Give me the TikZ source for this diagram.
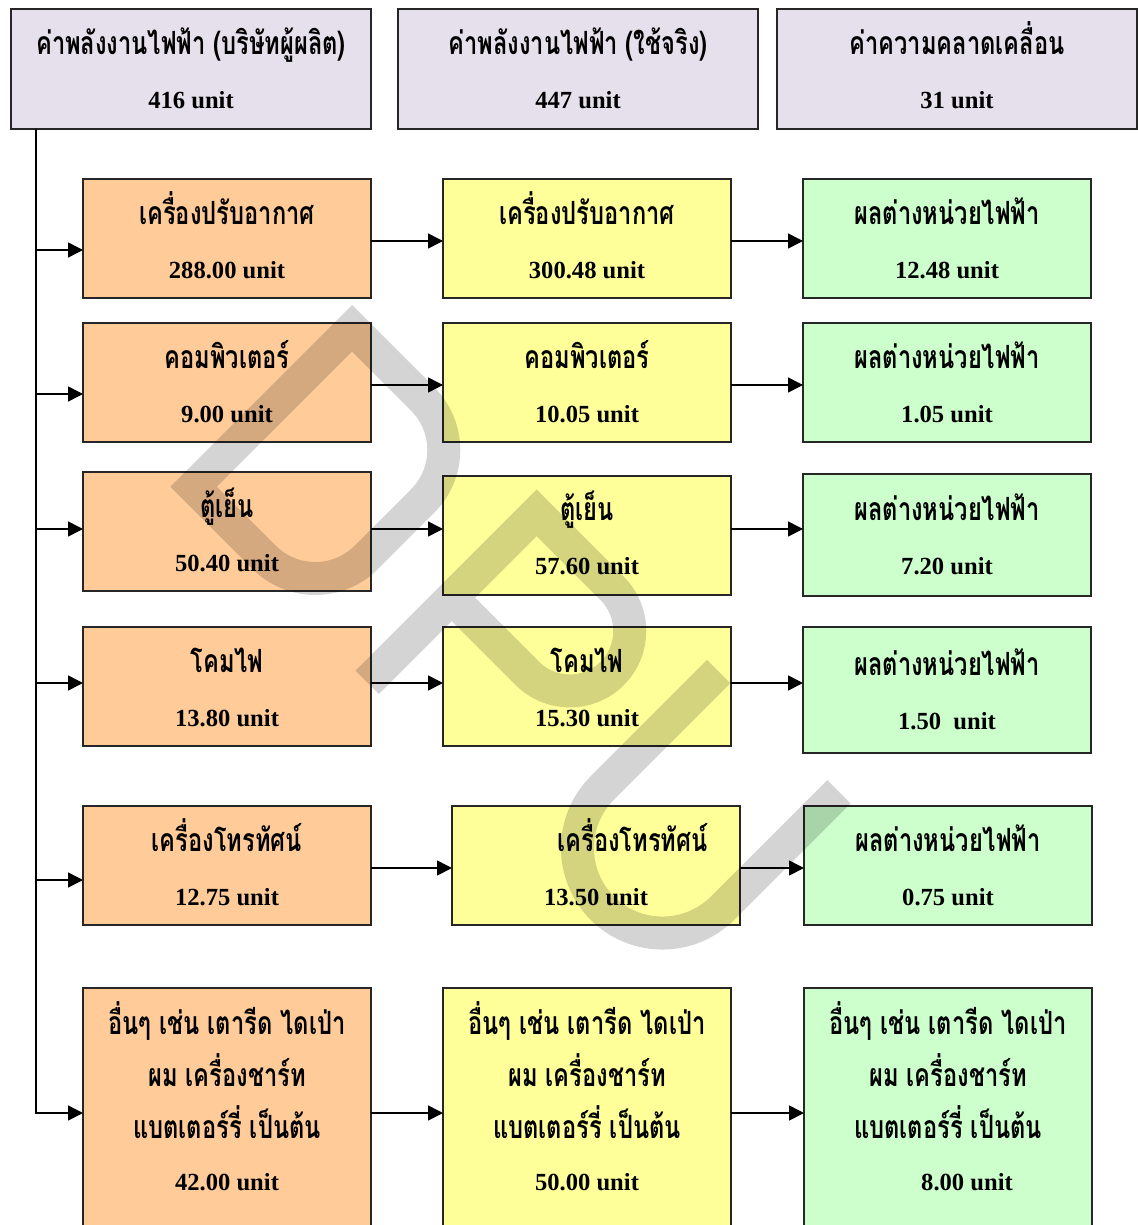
\documentclass[tikz,border=0pt]{standalone}
\usepackage{fontspec}
\setmainfont{Liberation Serif}
\newfontfamily\thaifont[Script=Thai,Scale=1.3,FakeStretch=0.74]{Loma}
\usetikzlibrary{arrows.meta,positioning}

\definecolor{headfill}{RGB}{229,224,236}
\definecolor{usedfill}{RGB}{255,204,153}
\definecolor{realfill}{RGB}{255,255,153}
\definecolor{difffill}{RGB}{204,255,204}

% Thai caption over a value, with fixed struts so every box sits alike
\newcommand\boxlines[2]{\rule{0pt}{32pt}{\thaifont #1}\\#2\rule[-7pt]{0pt}{7pt}}

\begin{document}
\begin{tikzpicture}[x=1pt,y=-1pt,
 box/.style={draw=black!85,line width=2pt,outer sep=0pt,inner sep=0pt,
   align=center,font=\fontsize{24.6}{54}\selectfont\bfseries},
 head/.style={box,fill=headfill,minimum width=360pt,minimum height=120pt},
 used/.style={box,fill=usedfill,minimum width=288pt,minimum height=119pt},
 real/.style={box,fill=realfill,minimum width=288pt,minimum height=119pt},
 diff/.style={box,fill=difffill,minimum width=288pt,minimum height=119pt},
 tall/.style={minimum height=250pt,font=\fontsize{24.6}{52}\selectfont\bfseries},
 link/.style={-{Triangle[length=15pt,width=15pt]},draw=black,line width=1.6pt},
 wmark/.style={draw=black,draw opacity=.17,line width=33pt}
]
\useasboundingbox (0,0) rectangle (1137,1225);

% totals
\node[head] (maker) at (191,69)
 {\boxlines{ค่าพลังงานไฟฟ้า (บริษัทผู้ผลิต)}{416 unit}};
\node[head,right=27pt of maker] (actual)
 {\boxlines{ค่าพลังงานไฟฟ้า (ใช้จริง)}{447 unit}};
\node[head,right=19pt of actual] (error)
 {\boxlines{ค่าความคลาดเคลื่อน}{31 unit}};

% rated use per appliance
\node[used] (air-use) at (227,238.5)
 {\boxlines{เครื่องปรับอากาศ}{288.00 unit}};
\node[used,below=25pt of air-use] (pc-use)
 {\boxlines{คอมพิวเตอร์}{9.00 unit}};
\node[used,below=30pt of pc-use] (fridge-use)
 {\boxlines{ตู้เย็น}{50.40 unit}};
\node[used,below=36pt of fridge-use] (lamp-use)
 {\boxlines{โคมไฟ}{13.80 unit}};
\node[used,below=60pt of lamp-use] (tv-use)
 {\boxlines{เครื่องโทรทัศน์}{12.75 unit}};
\node[used,tall,below=63pt of tv-use] (misc-use)
 {\rule{0pt}{32pt}{\thaifont อื่นๆ เช่น เตารีด ไดเป่า}\\
  {\thaifont ผม เครื่องชาร์ท}\\
  {\thaifont แบตเตอร์รี่ เป็นต้น}\\
  42.00 unit\rule[-34pt]{0pt}{34pt}};

% measured use
\node[real,right=72pt of air-use] (air-real)
 {\boxlines{เครื่องปรับอากาศ}{300.48 unit}};
\node[real,right=72pt of pc-use] (pc-real)
 {\boxlines{คอมพิวเตอร์}{10.05 unit}};
\node[real,right=72pt of fridge-use,yshift=-3.5pt] (fridge-real)
 {\boxlines{ตู้เย็น}{57.60 unit}};
\node[real,right=72pt of lamp-use] (lamp-real)
 {\boxlines{โคมไฟ}{15.30 unit}};
\node[real,right=81pt of tv-use] (tv-real)
 {\boxlines{\hspace*{73pt}เครื่องโทรทัศน์}{13.50 unit}};
\node[real,tall,right=72pt of misc-use] (misc-real)
 {\rule{0pt}{32pt}{\thaifont อื่นๆ เช่น เตารีด ไดเป่า}\\
  {\thaifont ผม เครื่องชาร์ท}\\
  {\thaifont แบตเตอร์รี่ เป็นต้น}\\
  50.00 unit\rule[-34pt]{0pt}{34pt}};

% differences
\node[diff,right=72pt of air-real] (air-diff)
 {\boxlines{ผลต่างหน่วยไฟฟ้า}{12.48 unit}};
\node[diff,right=72pt of pc-real] (pc-diff)
 {\boxlines{ผลต่างหน่วยไฟฟ้า}{1.05 unit}};
\node[diff,minimum height=122pt,right=72pt of fridge-real] (fridge-diff)
 {\boxlines{ผลต่างหน่วยไฟฟ้า}{7.20 unit}};
\node[diff,minimum height=126pt,right=72pt of lamp-real,yshift=-3.5pt] (lamp-diff)
 {\boxlines{ผลต่างหน่วยไฟฟ้า}{1.50~~unit}};
\node[diff,right=64pt of tv-real] (tv-diff)
 {\boxlines{ผลต่างหน่วยไฟฟ้า}{0.75 unit}};
\node[diff,tall,right=73pt of misc-real] (misc-diff)
 {\rule{0pt}{32pt}{\thaifont อื่นๆ เช่น เตารีด ไดเป่า}\\
  {\thaifont ผม เครื่องชาร์ท}\\
  {\thaifont แบตเตอร์รี่ เป็นต้น}\\
  \hspace*{38pt}8.00 unit\rule[-34pt]{0pt}{34pt}};

% trunk from the maker total down the left side
\coordinate (trunk) at ([xshift=25pt]maker.south west);
\draw[link] (trunk) |- (misc-use.west);
\coordinate (air-tap) at ([yshift=-11.5pt]air-use.west);
\coordinate (pc-tap) at ([yshift=-11.5pt]pc-use.west);
\coordinate (fridge-tap) at ([yshift=2.5pt]fridge-use.west);
\coordinate (lamp-tap) at ([yshift=3.5pt]lamp-use.west);
\coordinate (tv-tap) at ([yshift=-14.5pt]tv-use.west);
\draw[link] (air-tap -| trunk) -- (air-tap);
\draw[link] (pc-tap -| trunk) -- (pc-tap);
\draw[link] (fridge-tap -| trunk) -- (fridge-tap);
\draw[link] (lamp-tap -| trunk) -- (lamp-tap);
\draw[link] (tv-tap -| trunk) -- (tv-tap);

% rated -> measured
\draw[link] ([yshift=-2.5pt]air-use.east) -- ([yshift=-2.5pt]air-use.east -| air-real.west);
\draw[link] ([yshift=-2.5pt]pc-use.east) -- ([yshift=-2.5pt]pc-use.east -| pc-real.west);
\draw[link] ([yshift=2.5pt]fridge-use.east) -- ([yshift=2.5pt]fridge-use.east -| fridge-real.west);
\draw[link] ([yshift=3.5pt]lamp-use.east) -- ([yshift=3.5pt]lamp-use.east -| lamp-real.west);
\draw[link] ([yshift=-2.5pt]tv-use.east) -- ([yshift=-2.5pt]tv-use.east -| tv-real.west);
\draw[link] (misc-use.east) -- (misc-real.west);

% measured -> difference
\draw[link] ([yshift=-2.5pt]air-real.east) -- ([yshift=-2.5pt]air-real.east -| air-diff.west);
\draw[link] ([yshift=-2.5pt]pc-real.east) -- ([yshift=-2.5pt]pc-real.east -| pc-diff.west);
\draw[link] ([yshift=6pt]fridge-real.east) -- ([yshift=6pt]fridge-real.east -| fridge-diff.west);
\draw[link] ([yshift=3.5pt]lamp-real.east) -- ([yshift=3.5pt]lamp-real.east -| lamp-diff.west);
\draw[link] ([yshift=-2.5pt]tv-real.east) -- ([yshift=-2.5pt]tv-real.east -| tv-diff.west);
\draw[link] (misc-real.east) -- (misc-diff.west);

% watermark letters, drawn over everything
\begin{scope}[shift={(352,305)},rotate=-45]
 \draw[wmark] (16.5,240.5) -- (16.5,16.5) -- (116.5,16.5)
   .. controls (156.2,16.5) and (188.5,48.8) .. (188.5,88.5) -- (188.5,168.5)
   .. controls (188.5,208.2) and (156.2,240.5) .. (116.5,240.5) -- cycle;
 \draw[wmark] (277.5,256) -- (277.5,16.5) -- (384.5,16.5)
   .. controls (417.6,16.5) and (444.5,43.4) .. (444.5,76.5)
   .. controls (444.5,109.6) and (417.6,136.5) .. (384.5,136.5) -- (277.5,136.5);
 \draw[wmark] (518.5,0) -- (518.5,164.5)
   .. controls (518.5,211.4) and (556.6,249.5) .. (603.5,249.5)
   .. controls (650.4,249.5) and (688.5,211.4) .. (688.5,164.5) -- (688.5,0);
\end{scope}
\end{tikzpicture}
\end{document}
